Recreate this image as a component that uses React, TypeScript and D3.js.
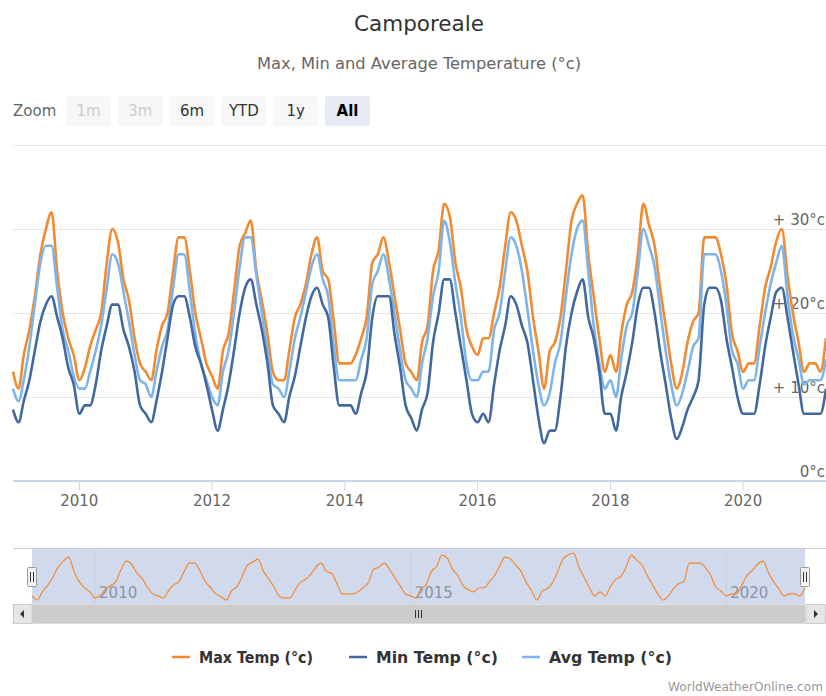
import React from "react";
import * as d3 from "d3";

// Monthly values, Jan 2009 .. Apr 2021
const startYear = 2009;
const maxTemp = [
  13, 11, 15, 18, 22, 27, 30, 32, 25, 20, 17, 15,
  12, 13.5, 16, 18, 20, 26, 30, 28.5, 24, 21.5, 17, 14,
  13, 12, 15.5, 18.5, 20, 25, 29, 29, 25, 20, 17, 14,
  12.5, 11, 15.5, 17.5, 22.5, 28, 29.5, 31, 25, 21.5, 17.5, 13,
  12, 12, 15.5, 19.5, 21, 23.5, 27, 29, 25, 24, 19, 14,
  14, 14, 15, 17, 19.5, 26, 27, 29, 26, 22, 18, 14,
  13, 12, 16.5, 18.5, 25, 27.5, 33, 31.5, 26, 23, 18, 16,
  15, 17, 17, 20, 23, 28, 32, 31, 28, 25, 19.5, 15.5,
  11, 15.5, 16.5, 19.5, 25, 31, 33, 34, 27, 22, 17, 13,
  15, 13, 17.5, 21, 22.5, 27, 33, 30.5, 28, 23, 18.5, 14,
  11, 13, 16.5, 19, 20, 29, 29, 29, 27, 23.5, 17.5, 15.5,
  13, 14, 14, 18.5, 23, 25.5, 28.5, 30, 24.5, 20, 16.5, 13,
  14, 14, 13, 17,
];
const avgTemp = [
  11, 9.5, 12, 16, 21, 26, 28, 28, 23, 18, 15.5, 12.5,
  11, 11, 13, 15.5, 18.5, 23, 27, 26, 22.5, 19, 15, 12,
  11.5, 10, 13, 16, 18, 23, 27, 27, 22.5, 17.5, 14, 12,
  10, 9, 13, 15.5, 20, 25.5, 29, 29, 24.5, 20, 15.5, 11.5,
  11, 10, 13, 17, 19.5, 22.5, 25.5, 27, 24, 22, 16, 12,
  12, 12, 12, 14.5, 17, 23.5, 25, 27, 24, 20, 15.5, 12,
  11, 10, 14, 17, 22, 25, 31, 28.5, 23.5, 19.5, 14, 12,
  12, 13, 13, 18, 20, 25, 29, 28, 25, 20.5, 15.5, 11.5,
  9, 10.5, 14, 16.5, 22, 27, 30, 31, 25, 18.5, 14, 11,
  12, 10, 14.5, 18.5, 20, 25, 30, 28, 25.5, 20.5, 15.5, 11.5,
  9, 10.5, 13, 16, 17, 27, 27, 27, 25, 21, 15.5, 14,
  11, 12, 12, 16, 20, 23.5, 26, 28, 22, 17.5, 14.5, 11.5,
  12, 12, 12, 14.5,
];
const minTemp = [
  8.5, 7, 9.5, 12, 15.5, 19, 21, 22, 19.5, 17, 13.5, 11.5,
  8, 9, 9, 11.5, 15.5, 18.5, 21, 21, 18, 16, 13, 9,
  8, 7, 9.5, 13, 17, 21, 22, 22, 19.5, 16, 14, 11.5,
  8.5, 6, 8.5, 11.5, 15.5, 20, 23, 24, 21, 18, 14, 9,
  8, 7, 10, 12.5, 16, 19.5, 22, 23, 21, 19.5, 13.5, 9,
  9, 9, 8, 10.5, 13, 19.5, 22, 22, 22, 17.5, 13.5, 9,
  7.5, 6, 8.5, 10.5, 16.5, 20, 24, 24, 20, 16, 12, 8,
  7, 8, 7, 11.5, 15.5, 18.5, 22, 21, 18.5, 16.5, 12, 7.5,
  4.5, 6, 6, 10, 16, 20, 22.5, 24, 19.5, 17, 13, 8,
  8, 6, 10, 13, 16.5, 21, 23, 23, 20, 15.5, 11.5, 7.5,
  5, 6.5, 8.5, 10, 12, 21, 23, 23, 21.5, 17, 13.5, 10,
  8, 8, 8, 11.5, 16, 19.5, 22.5, 23, 19.5, 15.5, 11.5, 8,
  8, 8, 8, 11,
];
const yTicks = [0, 10, 20, 30, 40];
const xTickYears = [2010, 2012, 2014, 2016, 2018, 2020];
const navTickYears = [2010, 2015, 2020];
const zoomButtons = ["1m", "3m", "6m", "YTD", "1y", "All"];
const seriesNames = ["Max Temp (°c)", "Min Temp (°c)", "Avg Temp (°c)"];

const COLORS = { max: "#f28a30", min: "#41689f", avg: "#7db4ea" };
const FONT = "'DejaVu Sans', Verdana, sans-serif";

export default function App() {
  const W = 826, H = 696;
  const dates = maxTemp.map((_, i) => new Date(startYear, i, 1));
  const x = d3.scaleTime().domain([dates[0], dates[dates.length - 1]]).range([13, 826]);
  const y = d3.scaleLinear().domain([0, 40]).range([481, 145]);
  const line = (vals: number[]) =>
    d3.line<number>().x((_, i) => x(dates[i])).y((v) => y(v)).curve(d3.curveMonotoneX)(vals) || "";

  const nx = d3.scaleTime().domain([dates[0], dates[dates.length - 1]]).range([32, 805]);
  const ny = d3.scaleLinear().domain([d3.min(maxTemp)!, d3.max(maxTemp)!]).range([600, 553]);
  const navLine =
    d3.line<number>().x((_, i) => nx(dates[i])).y((v) => ny(v)).curve(d3.curveMonotoneX)(maxTemp) || "";

  const legendItems = [
    { name: seriesNames[0], color: COLORS.max, x: 172, len: 114 },
    { name: seriesNames[1], color: COLORS.min, x: 349, len: 122 },
    { name: seriesNames[2], color: COLORS.avg, x: 522, len: 123 },
  ];

  return (
    <svg width={W} height={H} style={{ position: "absolute", left: 0, top: 0, display: "block", background: "#fff" }} fontFamily={FONT}>
      <rect width={W} height={H} fill="#fff" />
      <text x={419} y={31} textAnchor="middle" fontSize={21.5} fill="#333">Camporeale</text>
      <text x={419} y={69} textAnchor="middle" fontSize={16} fill="#666" textLength={324} lengthAdjust="spacingAndGlyphs">Max, Min and Average Temperature (°c)</text>

      {/* range selector */}
      <text x={13} y={116} fontSize={15} fill="#666">Zoom</text>
      {zoomButtons.map((b, i) => {
        const bx = 66 + i * 51.8;
        const disabled = i < 2;
        const selected = b === "All";
        return (
          <g key={b}>
            <rect x={bx} y={96} width={45} height={30} rx={2} fill={selected ? "#e6ebf5" : "#f7f7f7"} />
            <text x={bx + 22.5} y={116} textAnchor="middle" fontSize={15}
              fontWeight={selected ? "bold" : "normal"}
              fill={disabled ? "#cccccc" : selected ? "#000" : "#333"}>{b}</text>
          </g>
        );
      })}

      {/* grid */}
      {yTicks.filter((t) => t > 0).map((t) => (
        <line key={t} x1={13} x2={826} y1={y(t) + 0.5} y2={y(t) + 0.5} stroke="#e6e6e6" strokeWidth={1} />
      ))}
      {yTicks.filter((t) => t < 40).map((t) => (
        <text key={t} x={825} y={y(t) - 4} textAnchor="end" fontSize={15} fill="#666">
          {t === 0 ? "0°c" : `+ ${t}°c`}
        </text>
      ))}

      {/* series */}
      <path d={line(maxTemp)} fill="none" stroke={COLORS.max} strokeWidth={2.6} strokeLinejoin="round" />
      <path d={line(avgTemp)} fill="none" stroke={COLORS.avg} strokeWidth={2.6} strokeLinejoin="round" />
      <path d={line(minTemp)} fill="none" stroke={COLORS.min} strokeWidth={2.6} strokeLinejoin="round" />

      {/* x axis */}
      <line x1={13} x2={826} y1={481} y2={481} stroke="#ccd6eb" strokeWidth={2} />
      {xTickYears.map((yr) => {
        const px = x(new Date(yr, 0, 1));
        return (
          <g key={yr}>
            <line x1={px} x2={px} y1={481} y2={491} stroke="#ccd6eb" strokeWidth={1} />
            <text x={px} y={506} textAnchor="middle" fontSize={15} fill="#666">{yr}</text>
          </g>
        );
      })}

      {/* navigator */}
      <rect x={32} y={548} width={773} height={56} fill="rgba(102,133,194,0.3)" />
      {navTickYears.map((yr) => {
        const px = nx(new Date(yr, 0, 1));
        return (
          <g key={yr}>
            <line x1={px} x2={px} y1={548} y2={604} stroke="#c4cde0" strokeWidth={1} />
            <text x={px + 4} y={598} fontSize={15} fill="#8a93a6">{yr}</text>
          </g>
        );
      })}
      <path d={navLine} fill="none" stroke={COLORS.max} strokeWidth={1.2} />
      <line x1={13} x2={826} y1={548.5} y2={548.5} stroke="#cccccc" strokeWidth={1} />
      {[32, 805].map((hx) => (
        <g key={hx}>
          <rect x={hx - 4.5} y={567.5} width={9} height={19} rx={1} fill="#f2f2f2" stroke="#999" strokeWidth={1} />
          <line x1={hx - 1.5} x2={hx - 1.5} y1={572} y2={582} stroke="#333" strokeWidth={1} />
          <line x1={hx + 1.5} x2={hx + 1.5} y1={572} y2={582} stroke="#333" strokeWidth={1} />
        </g>
      ))}

      {/* scrollbar */}
      <rect x={13} y={604.5} width={813} height={19} fill="#f2f2f2" stroke="#f2f2f2" />
      <rect x={32} y={604.5} width={773} height={19} fill="#cccccc" />
      <rect x={13.5} y={604.5} width={18.5} height={19} fill="#e6e6e6" stroke="#cccccc" />
      <rect x={806} y={604.5} width={19.5} height={19} fill="#e6e6e6" stroke="#cccccc" />
      <path d="M 24 610 L 24 618 L 20 614 Z" fill="#333" />
      <path d="M 814 610 L 814 618 L 818 614 Z" fill="#333" />
      {[-3, 0, 3].map((o) => (
        <line key={o} x1={418.5 + o} x2={418.5 + o} y1={610} y2={618} stroke="#333" strokeWidth={1} />
      ))}

      {/* legend */}
      {legendItems.map((it) => (
        <g key={it.name}>
          <line x1={it.x} x2={it.x + 18} y1={657} y2={657} stroke={it.color} strokeWidth={2.5} />
          <text x={it.x + 27} y={663} fontSize={16} fontWeight="bold" fill="#333"
            textLength={it.len} lengthAdjust="spacingAndGlyphs">{it.name}</text>
        </g>
      ))}

      <text x={823} y={691} textAnchor="end" fontSize={12.5} fill="#999" textLength={155} lengthAdjust="spacingAndGlyphs">WorldWeatherOnline.com</text>
    </svg>
  );
}
